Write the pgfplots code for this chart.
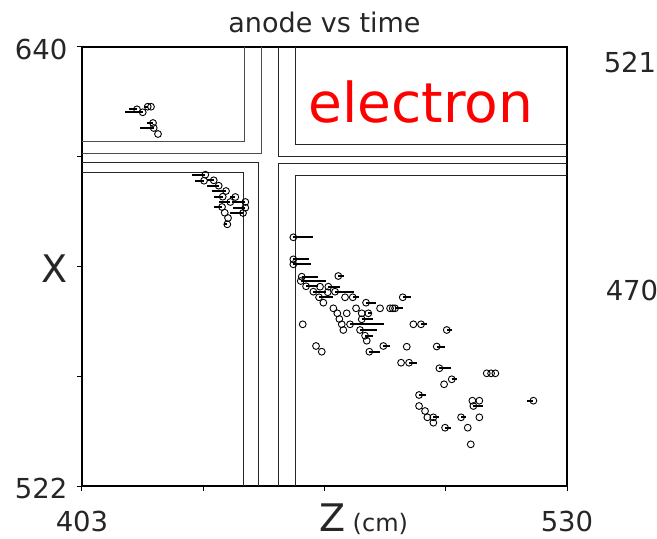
\documentclass[border=0pt]{standalone}
\usepackage{fontspec}
\setmainfont{DejaVu Sans}
\usepackage{pgfplots}
\pgfplotsset{compat=1.18}
\usepackage{pgfplotstable}

% x y  ep (error to the right)  em (error to the left)
\pgfplotstableread{
x y ep em
417.40 623.25 0 2.0
418.90 622.45 0 4.56
420.21 623.95 0 0.8
421.07 623.95 0 0
421.59 619.57 0 1.6
421.78 618.23 0 3.5
422.90 616.61 0 0
}\ulpts

\pgfplotstableread{
x y ep em
435.29 605.67 0 3.5
434.95 604.06 0 2.3
437.49 604.17 0 1.75
438.80 602.72 0 3.06
440.71 601.29 0 3.67
439.85 599.76 0 2.36
443.15 599.68 0 1.3
441.84 598.34 0 3.04
445.77 598.34 0 3.4
445.77 596.80 0 3.2
439.67 596.99 0 2.1
440.37 595.46 0 0
445.17 595.38 0 3.4
441.24 594.04 0 0
441.05 592.34 0 0.8
}\llpts

\pgfplotstableread{
x y ep em
458.34 588.85 5.08 0
458.34 582.93 4.11 0
458.34 581.59 4.64 0
460.54 578.26 4.35 0
460.28 577.10 6.63 0
461.67 575.68 3.14 0
463.58 574.23 3.4 0
465.33 575.57 0 0
467.50 575.57 3.06 0
469.26 574.23 4.98 0
467.35 574.07 0 0
465.07 572.72 3.59 0
466.20 571.27 0 0
470.12 578.44 1.5 0
471.88 572.72 0 0
473.90 572.72 1.7 0
477.38 571.27 2.6 0
468.82 569.76 0 0
469.86 568.42 0 0
472.32 568.42 0 0
474.76 569.76 0 0
476.25 568.42 0 0
477.98 568.42 1.0 0
470.39 566.89 0 0
476.25 566.81 3.04 0
481.05 569.76 0 0
483.67 569.76 0 0
484.37 569.76 0 0
484.97 569.76 2.0 0
486.99 572.72 2.1 0
471.02 565.46 0 0
473.19 565.46 8.9 0
471.43 563.93 0 0
475.81 563.93 4.37 0
477.12 562.40 2.0 0
477.56 561.05 0 0
460.80 565.46 0 0
464.28 559.63 0 0
465.78 558.10 0 0
478.24 558.10 2.8 0
481.91 559.63 1.75 0
488.04 559.44 0 0
489.77 565.46 0 0
491.78 565.46 1.6 0
486.55 555.14 0 0
488.64 555.14 2.0 0
498.51 563.93 1.3 0
495.89 559.49 2.1 0
496.58 553.64 2.96 0
499.82 550.68 1.3 0
497.81 549.34 0 0
508.99 552.29 0 0
510.12 552.29 0 0
511.24 552.29 0 0
491.26 546.46 1.8 0
491.26 543.50 0 0
492.83 542.16 0 0
493.43 540.46 0 0
495.00 540.46 1.6 0
495.00 539.01 0 0
498.07 537.67 1.6 0
504.01 537.67 0 0
504.80 533.20 0 0
502.26 540.46 1.3 0
507.05 540.46 0 0
505.22 544.93 0 0
507.05 544.93 0 0
505.48 543.50 2.4 0
521.20 544.93 0 1.6
}\mainpts

\pgfplotsset{hits/.style={only marks, mark=o, mark size=3.4pt,
  mark options={line width=0.9pt, black},
  error bars/.cd, x dir=both, x explicit}}

\begin{document}
\begin{tikzpicture}
\useasboundingbox (-82pt,-53pt) rectangle (575pt,486pt);
\begin{axis}[
  at={(0pt,0pt)}, anchor=south west,
  scale only axis, width=485pt, height=439pt,
  xmin=403, xmax=530, ymin=522, ymax=640,
  axis line style={line width=1.2pt},
  tick align=outside, xtick pos=bottom, ytick pos=left,
  major tick length=5pt,
  tick style={line width=1pt, black},
  xtick={403,434.75,466.5,498.25,530},
  xticklabels={403,,{\hspace{16pt}\fontsize{38}{40}\selectfont Z\rlap{\fontsize{24}{26}\selectfont\hspace{0.3em}(cm)}},,530},
  ytick={522,551.5,581,610.5,640},
  yticklabels={522,,{\fontsize{38}{40}\selectfont X},,640},
  tick label style={font=\fontsize{27.5}{29}\selectfont, text=black!85},
  xticklabel style={anchor=base, yshift=-40pt},
  yticklabel style={xshift=-6pt, yshift=-2pt},
  /pgf/number format/assume math mode=true,
  clip=false,
  error bars/error bar style={line width=2pt, black},
  error bars/error mark=none,
]
% chamber outlines
\addplot[black!70, line width=0.8pt] coordinates {(403,614.5) (445.4,614.5) (445.4,640)};
\addplot[black!70, line width=0.8pt] coordinates {(403,611.5) (449.9,611.5) (449.9,640)};
\addplot[black!85, line width=0.8pt] coordinates {(403,609.1) (449.3,609.1) (449.3,522)};
\addplot[black!85, line width=0.8pt] coordinates {(403,606.4) (445.2,606.4) (445.2,522)};
\addplot[black!85, line width=0.8pt] coordinates {(530,610.7) (454.3,610.7) (454.3,640)};
\addplot[black!85, line width=0.8pt] coordinates {(530,613.7) (458.8,613.7) (458.8,640)};
\addplot[black!85, line width=0.8pt] coordinates {(530,608.6) (454.3,608.6) (454.3,522)};
\addplot[black!85, line width=0.8pt] coordinates {(530,605.6) (458.8,605.6) (458.8,522)};

% hits
\addplot[hits] table[x=x, y=y, x error plus=ep, x error minus=em] {\ulpts};
\addplot[hits] table[x=x, y=y, x error plus=ep, x error minus=em] {\llpts};
\addplot[hits] table[x=x, y=y, x error plus=ep, x error minus=em] {\mainpts};

\node[anchor=base, text=red, font=\fontsize{55}{60}\selectfont] at (axis cs:491.8,619.8) {electron};
\node[anchor=base, font=\fontsize{27}{29}\selectfont, text=black!85] at ([yshift=14pt]rel axis cs:0.5,1) {anode vs time};
\end{axis}
\node[font=\fontsize{27.5}{29}\selectfont, text=black!85] at (548pt,424pt) {521};
\node[font=\fontsize{27.5}{29}\selectfont, text=black!85] at (550pt,196pt) {470};
\end{tikzpicture}
\end{document}
